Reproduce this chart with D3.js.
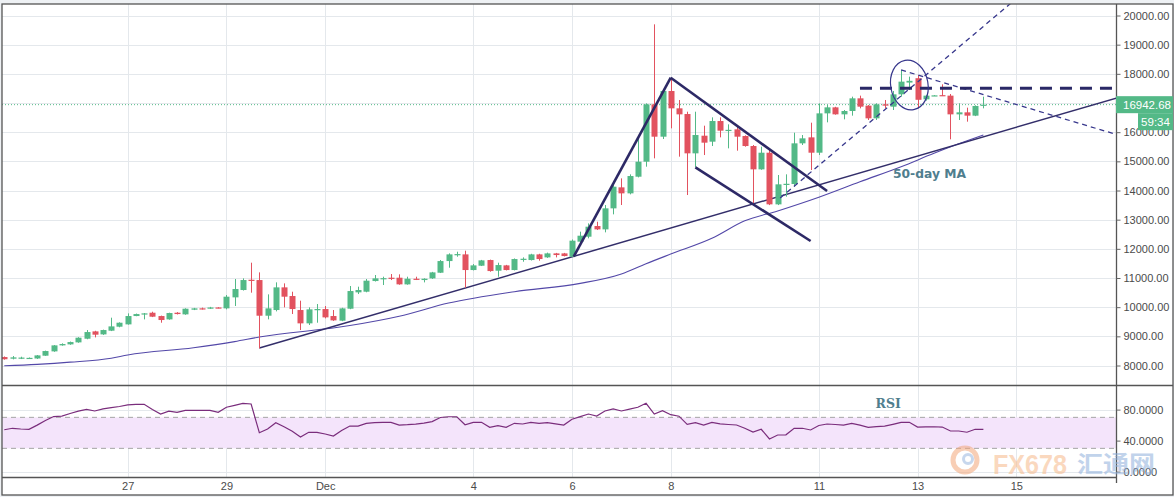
<!DOCTYPE html>
<html><head><meta charset="utf-8">
<script src="https://cdn.jsdelivr.net/npm/d3@7"></script>
<style>body{margin:0;background:#fff;} svg{display:block;}</style>
</head><body>
<svg id="chart" width="1174" height="497"></svg>
<script>
// ---------------- DATA ----------------
const candleStart = Date.UTC(2017, 10, 24, 12); // first 4h candle
const candleHours = 4;
const opens = [
8290, 8233, 8262, 8258, 8240, 8336, 8484, 8690, 8724, 8793,
8918, 9170, 9067, 9193, 9330, 9410, 9696, 9753, 9810, 9696,
9581, 9810, 9753, 9913, 9960, 9947, 9990, 9959, 10336, 10588,
10940, 10930, 9707, 9902, 10679, 10382, 9902, 9445, 9925, 9936,
9696, 9536, 9947, 10508, 10530, 10896, 10980, 11010, 11010, 10781,
10975, 10930, 10987, 11181, 11581, 11810, 11810, 11273, 11421, 11616,
11250, 11433, 11273, 11650, 11616, 11810, 11707, 11844, 11844, 11730,
12245, 12416, 12782, 12667, 13388, 14108, 13902, 14473, 14988, 16954,
15845, 17411, 16817, 16622, 15274, 15879, 15674, 16382, 16070, 16097,
15868, 15525, 14725, 15296, 13525, 14211, 14222, 15617, 15822, 15296,
16645, 16851, 16611, 16726, 17160, 16909, 16474, 16954, 16874, 17297,
17700, 17850, 17126, 17250, 17270, 17252, 16611, 16680, 16566, 16909];
const highs = [
8310, 8324, 8301, 8275, 8360, 8510, 8700, 8760, 8820, 8970,
9216, 9190, 9230, 9639, 9480, 9787, 9780, 9800, 9844, 9710,
9810, 9830, 9960, 9975, 9985, 10010, 10000, 10416, 10965, 10988,
11525, 11193, 10439, 10851, 10816, 10530, 10222, 9993, 10108, 10039,
9902, 9980, 10725, 10702, 10965, 11102, 11045, 11136, 11125, 11044,
11044, 10990, 11210, 11616, 11844, 11901, 11936, 11478, 11620, 11630,
11524, 11450, 11670, 11707, 11830, 11830, 11870, 11860, 11860, 12320,
12588, 12873, 12930, 13502, 14302, 14416, 14553, 15788, 16988, 19697,
17434, 17845, 17102, 16702, 16702, 16222, 16508, 16508, 16268, 16222,
15890, 15560, 15502, 15388, 14531, 14554, 15982, 15902, 16325, 16988,
16931, 16870, 16760, 17217, 17252, 16930, 16990, 17103, 17412, 18132,
17903, 17950, 17280, 17270, 17640, 17309, 16989, 16840, 16920, 17217];
const lows = [
8200, 8210, 8221, 8240, 8225, 8330, 8470, 8680, 8710, 8780,
8900, 8964, 9050, 9180, 9310, 9400, 9690, 9581, 9660, 9467,
9570, 9750, 9740, 9900, 9920, 9940, 9960, 9925, 10039, 10570,
10496, 8587, 9582, 9856, 9993, 9765, 9216, 9388, 9467, 9616,
9530, 9520, 9930, 10450, 10510, 10880, 10759, 10930, 10770, 10770,
10930, 10850, 10970, 11170, 11353, 11730, 10667, 11260, 11410, 11215,
11044, 11260, 11260, 11558, 11600, 11593, 11690, 11707, 11740, 11720,
12230, 12360, 12645, 12565, 13182, 13502, 13868, 14450, 14816, 15102,
15765, 16131, 15160, 13845, 14800, 15216, 15525, 15822, 15445, 15365,
15502, 13536, 14710, 13500, 13500, 13788, 14131, 15560, 14702, 15216,
16337, 16600, 16440, 16566, 16817, 16417, 16417, 16817, 16760, 17217,
17446, 16817, 17080, 17240, 17240, 15754, 16417, 16360, 16550, 16817];
const closes = [
8215, 8279, 8272, 8262, 8347, 8496, 8690, 8736, 8804, 8953,
9147, 9056, 9216, 9341, 9467, 9696, 9764, 9787, 9673, 9559,
9799, 9764, 9947, 9959, 9945, 9990, 9975, 10359, 10622, 10930,
10920, 9707, 9959, 10679, 10359, 9936, 9445, 9925, 9936, 9650,
9547, 9959, 10553, 10588, 10908, 10988, 10995, 11000, 10782, 10975,
10965, 10975, 11193, 11581, 11810, 11820, 11273, 11433, 11604, 11238,
11444, 11273, 11650, 11660, 11810, 11650, 11844, 11787, 11753, 12280,
12450, 12759, 12667, 13388, 14130, 13902, 14496, 14988, 16954, 15845,
17411, 16817, 16611, 15274, 15902, 15640, 16382, 16051, 16080, 15845,
15525, 14725, 15296, 13525, 14211, 14230, 15617, 15788, 15296, 16645,
16851, 16611, 16725, 17160, 16874, 16474, 16954, 16909, 17297, 17732,
17760, 17110, 17252, 17262, 17250, 16611, 16680, 16566, 16897, 16942.68];

const rsiValues = [
54, 55.9, 55, 54.6, 60, 66, 71, 71.7, 75, 78,
80.4, 78.2, 81, 82.5, 84, 86.2, 86.8, 86.8, 80, 74.3,
78, 76.5, 79, 79.1, 79.1, 79, 76.5, 83, 85.5, 88,
87.2, 50.2, 55, 63, 57.9, 52, 44.5, 50.7, 50.7, 48.5,
45.9, 53, 58.8, 58.8, 62.3, 63.2, 63.6, 63.6, 60.1, 60.5,
61.2, 62.5, 64.5, 69.8, 70.8, 70.8, 60.5, 63.6, 63.6, 57.2,
59.2, 57.2, 62.3, 61.4, 63.6, 62.3, 63.1, 61.5, 60.1, 67.5,
71, 74.3, 71.7, 78.2, 80.8, 78.2, 80.6, 83, 88.1, 74.3,
78.6, 73.4, 71.5, 61, 63.1, 60.1, 63.6, 61.5, 60.8, 60.1,
56, 51, 54.6, 42.1, 47.2, 47.5, 55.9, 55.9, 53.7, 59.5,
61.4, 60.8, 60.1, 62.3, 60, 57.2, 58, 58.6, 61, 63.4,
63.6, 57.4, 57.8, 57.9, 57.5, 52.4, 52.4, 50.8, 54.6, 54.6];

// 50-day moving average, read at selected candles
const maIndex  = [0, 4, 8, 13, 15, 23, 28, 31, 42, 48, 54, 62, 70, 75, 78, 81, 86, 90, 94, 99, 104, 109, 113, 116, 119];
const maValues = [7990, 8040, 8115, 8250, 8360, 8610, 8820, 8975, 9370, 9690, 10140, 10530, 10817, 11140, 11490, 11820, 12360, 12960, 13300, 13770, 14300, 14815, 15275, 15600, 15902];

const tickDates  = ["2017-11-27", "2017-11-29", "2017-12-01", "2017-12-04", "2017-12-06", "2017-12-08", "2017-12-11", "2017-12-13", "2017-12-15"];
const tickLabels = ["27", "29", "Dec", "4", "6", "8", "11", "13", "15"];
const priceTicks = [8000, 9000, 10000, 11000, 12000, 13000, 14000, 15000, 16000, 17000, 18000, 19000, 20000];
const rsiTicks = [0, 40, 80];
const rsiBand = [30, 70];
const lastPrice = 16942.68;
const countdown = "59:34";

// drawn annotations: [candle index, price]
const supportLine = [[31, 8598], [135.3, 17181]];
const flagPole    = [[69.2, 11729], [81, 17867]];
const flagUpper   = [[81, 17867], [100, 13982]];
const flagLower   = [[84, 14795], [98, 12268]];
const dashedRise  = [[94.3, 13740], [122.5, 20460]];
const dashedFall  = [[109, 18132], [135.3, 15909]];
const resistance  = [[104, 17504], [135.3, 17504]];
const ellipseBox  = [[107.73, 18474], [112.27, 16760]];

// ---------------- CHART ----------------
const W = 1174, H = 497;
const L = 2, R = 1116, T = 4, MB = 385, RB = 477;
const svg = d3.select("#chart");
const font = "'Liberation Sans', Arial, sans-serif";
const upC = "#53b987", dnC = "#e2525f";
const navy = "#2d2966";

const tAt = i => new Date(candleStart + i * candleHours * 3600e3);
const x = d3.scaleUtc()
  .domain([new Date(Date.UTC(2017, 10, 27)), new Date(Date.UTC(2017, 11, 15))])
  .range([127.7, 1016.3]);
const xi = i => x(tAt(i));
const y = d3.scaleLinear().domain([8000, 20000]).range([365.5, 15.5]);
const ry = d3.scaleLinear().domain([0, 100]).range([471.6, 394.1]);

svg.append("rect").attr("width", W).attr("height", H).attr("fill", "#eef1f4");
svg.append("rect").attr("x", L).attr("y", T).attr("width", W - 1 - L).attr("height", 495 - T).attr("fill", "#fff");

const defs = svg.append("defs");
defs.append("clipPath").attr("id", "cMain").append("rect").attr("x", L).attr("y", T).attr("width", R - L).attr("height", MB - T);
defs.append("clipPath").attr("id", "cRsi").append("rect").attr("x", L).attr("y", MB).attr("width", R - L).attr("height", RB - MB);

const grid = svg.append("g").attr("stroke", "#e4e8ec").attr("stroke-width", 1);
priceTicks.forEach(p => grid.append("line").attr("x1", L).attr("x2", R).attr("y1", Math.round(y(p)) + 0.5).attr("y2", Math.round(y(p)) + 0.5));
const tickDateObjs = tickDates.map(s => new Date(s + "T00:00:00Z"));
tickDateObjs.forEach(d => grid.append("line").attr("x1", Math.round(x(d)) + 0.5).attr("x2", Math.round(x(d)) + 0.5).attr("y1", T).attr("y2", RB));
rsiTicks.forEach(v => grid.append("line").attr("x1", L).attr("x2", R).attr("y1", Math.round(ry(v)) + 0.5).attr("y2", Math.round(ry(v)) + 0.5));

// ---- main pane ----
const main = svg.append("g").attr("clip-path", "url(#cMain)");
main.append("line").attr("x1", L).attr("x2", R).attr("y1", y(lastPrice)).attr("y2", y(lastPrice))
  .attr("stroke", upC).attr("stroke-width", 1).attr("stroke-dasharray", "1,2");

const maData = maIndex.map((i, k) => [i, maValues[k]]);
main.append("path").attr("d", d3.line().x(d => xi(d[0])).y(d => y(d[1])).curve(d3.curveMonotoneX)(maData))
  .attr("fill", "none").attr("stroke", "#5348a8").attr("stroke-width", 1.1);

const seg = (g, pts, stroke, width, dash) => g.append("path")
  .attr("d", d3.line().x(d => xi(d[0])).y(d => y(d[1]))(pts))
  .attr("fill", "none").attr("stroke", stroke).attr("stroke-width", width)
  .attr("stroke-dasharray", dash || null);
seg(main, supportLine, "#332e6a", 1.5);

const candles = d3.range(opens.length).map(i => ({i, o: opens[i], h: highs[i], l: lows[i], c: closes[i]}));
const cg = main.append("g").selectAll("g").data(candles).join("g");
cg.append("line")
  .attr("x1", d => Math.round(xi(d.i)) + 0.5).attr("x2", d => Math.round(xi(d.i)) + 0.5)
  .attr("y1", d => y(d.h)).attr("y2", d => y(d.l))
  .attr("stroke", d => d.c >= d.o ? upC : dnC).attr("stroke-width", 1);
cg.append("rect")
  .attr("x", d => Math.round(xi(d.i)) - 2.5).attr("width", 6)
  .attr("y", d => y(Math.max(d.o, d.c)))
  .attr("height", d => Math.max(1.2, Math.abs(y(d.o) - y(d.c))))
  .attr("fill", d => d.c >= d.o ? upC : dnC);

seg(main, flagPole, navy, 2.6);
seg(main, flagUpper, navy, 2.6);
seg(main, flagLower, navy, 2.6);
seg(main, dashedRise, "#37378c", 1.3, "5,4");
seg(main, dashedFall, "#37378c", 1.3, "5,4");
seg(main, resistance, "#2a2866", 3, "12,8");
const ex0 = xi(ellipseBox[0][0]), ex1 = xi(ellipseBox[1][0]);
const ey0 = y(ellipseBox[0][1]), ey1 = y(ellipseBox[1][1]);
main.append("ellipse").attr("cx", (ex0 + ex1) / 2).attr("cy", (ey0 + ey1) / 2)
  .attr("rx", (ex1 - ex0) / 2).attr("ry", (ey1 - ey0) / 2)
  .attr("transform", `rotate(-10 ${(ex0 + ex1) / 2} ${(ey0 + ey1) / 2})`)
  .attr("fill", "none").attr("stroke", "#37378c").attr("stroke-width", 1.2);

svg.append("text").attr("x", 893).attr("y", 177.5).text("50-day MA")
  .attr("font-family", "'DejaVu Sans', sans-serif").attr("font-weight", "bold")
  .attr("font-size", 12.3).attr("fill", "#4f7e8e");

// ---- RSI pane ----
const rsiG = svg.append("g").attr("clip-path", "url(#cRsi)");
rsiG.append("rect").attr("x", L).attr("width", R - L)
  .attr("y", ry(rsiBand[1])).attr("height", ry(rsiBand[0]) - ry(rsiBand[1])).attr("fill", "#f4e4fb");
rsiBand.forEach(v => rsiG.append("line").attr("x1", L).attr("x2", R).attr("y1", ry(v)).attr("y2", ry(v))
  .attr("stroke", "#a5a5a5").attr("stroke-dasharray", "5,4"));
rsiG.append("path").attr("d", d3.line().x((d, i) => xi(i)).y(d => ry(d))(rsiValues))
  .attr("fill", "none").attr("stroke", "#7a2d7c").attr("stroke-width", 1.2);
svg.append("text").attr("x", 875.5).attr("y", 407.5).text("RSI")
  .attr("font-family", "'DejaVu Serif', serif").attr("font-weight", "bold")
  .attr("font-size", 12.5).attr("fill", "#4f7e8e");

// ---- frame / separators ----
const fr = svg.append("g").attr("stroke", "#555").attr("stroke-width", 1.3).attr("fill", "none");
fr.append("rect").attr("x", L).attr("y", T).attr("width", W - 1 - L).attr("height", 495 - T);
fr.append("line").attr("x1", L).attr("x2", W - 1).attr("y1", MB + 0.5).attr("y2", MB + 0.5);
fr.append("line").attr("x1", L).attr("x2", R).attr("y1", RB + 0.5).attr("y2", RB + 0.5);
fr.append("line").attr("x1", R + 0.5).attr("x2", R + 0.5).attr("y1", T).attr("y2", RB + 6);

// ---- axes ----
const yAxis = svg.append("g").attr("transform", `translate(${R + 0.5},0)`)
  .call(d3.axisRight(y).tickValues(priceTicks).tickFormat(d3.format(".2f")).tickSize(4).tickPadding(3));
const rAxis = svg.append("g").attr("transform", `translate(${R + 0.5},0)`)
  .call(d3.axisRight(ry).tickValues(rsiTicks).tickFormat(d3.format(".4f")).tickSize(4).tickPadding(3));
const xAxis = svg.append("g").attr("transform", `translate(0,${RB})`)
  .call(d3.axisBottom(x).tickValues(tickDateObjs).tickFormat((d, i) => tickLabels[i]).tickSize(0).tickPadding(10));
[yAxis, rAxis, xAxis].forEach(a => {
  a.select(".domain").remove();
  a.selectAll("line").attr("stroke", "#666");
  a.selectAll("text").attr("font-family", font).attr("font-size", 11).attr("fill", "#4b4b4b");
});
xAxis.selectAll("text").attr("dy", "0.3em");

// ---- watermark (drawn over the lower RSI axis label, as in the source) ----
const wm = svg.append("g").attr("opacity", 0.55);
wm.append("circle").attr("cx", 965).attr("cy", 460).attr("r", 12).attr("fill", "none").attr("stroke", "#f3a77a").attr("stroke-width", 5);
wm.append("circle").attr("cx", 968).attr("cy", 459).attr("r", 4.5).attr("fill", "none").attr("stroke", "#9bb8e0").attr("stroke-width", 3);
wm.append("text").attr("x", 993).attr("y", 474).text("FX678").attr("font-family", "'Liberation Sans', Arial, sans-serif")
  .attr("font-weight", "bold").attr("font-size", 28).attr("textLength", 74).attr("lengthAdjust", "spacingAndGlyphs").attr("fill", "#f6b98a");
wm.append("text").attr("x", 1077).attr("y", 472).text("汇通网").attr("font-family", "'Noto Sans CJK SC', sans-serif")
  .attr("font-weight", "bold").attr("font-size", 23).attr("textLength", 78).attr("lengthAdjust", "spacingAndGlyphs").attr("fill", "#8fb0dc");

// ---- price label ----
svg.append("rect").attr("x", R).attr("y", y(lastPrice) - 8.5).attr("width", W - 1 - R).attr("height", 17).attr("fill", upC);
svg.append("text").attr("x", 1123).attr("y", y(lastPrice)).attr("dy", "0.35em").text(d3.format(".2f")(lastPrice))
  .attr("font-family", font).attr("font-size", 11.5).attr("fill", "#fff");
svg.append("rect").attr("x", 1138).attr("y", y(lastPrice) + 8.5).attr("width", W - 1 - 1138).attr("height", 17).attr("fill", upC);
svg.append("text").attr("x", 1155.5).attr("y", y(lastPrice) + 17).attr("dy", "0.35em").attr("text-anchor", "middle").text(countdown)
  .attr("font-family", font).attr("font-size", 11.5).attr("fill", "#fff");
</script>
</body></html>
